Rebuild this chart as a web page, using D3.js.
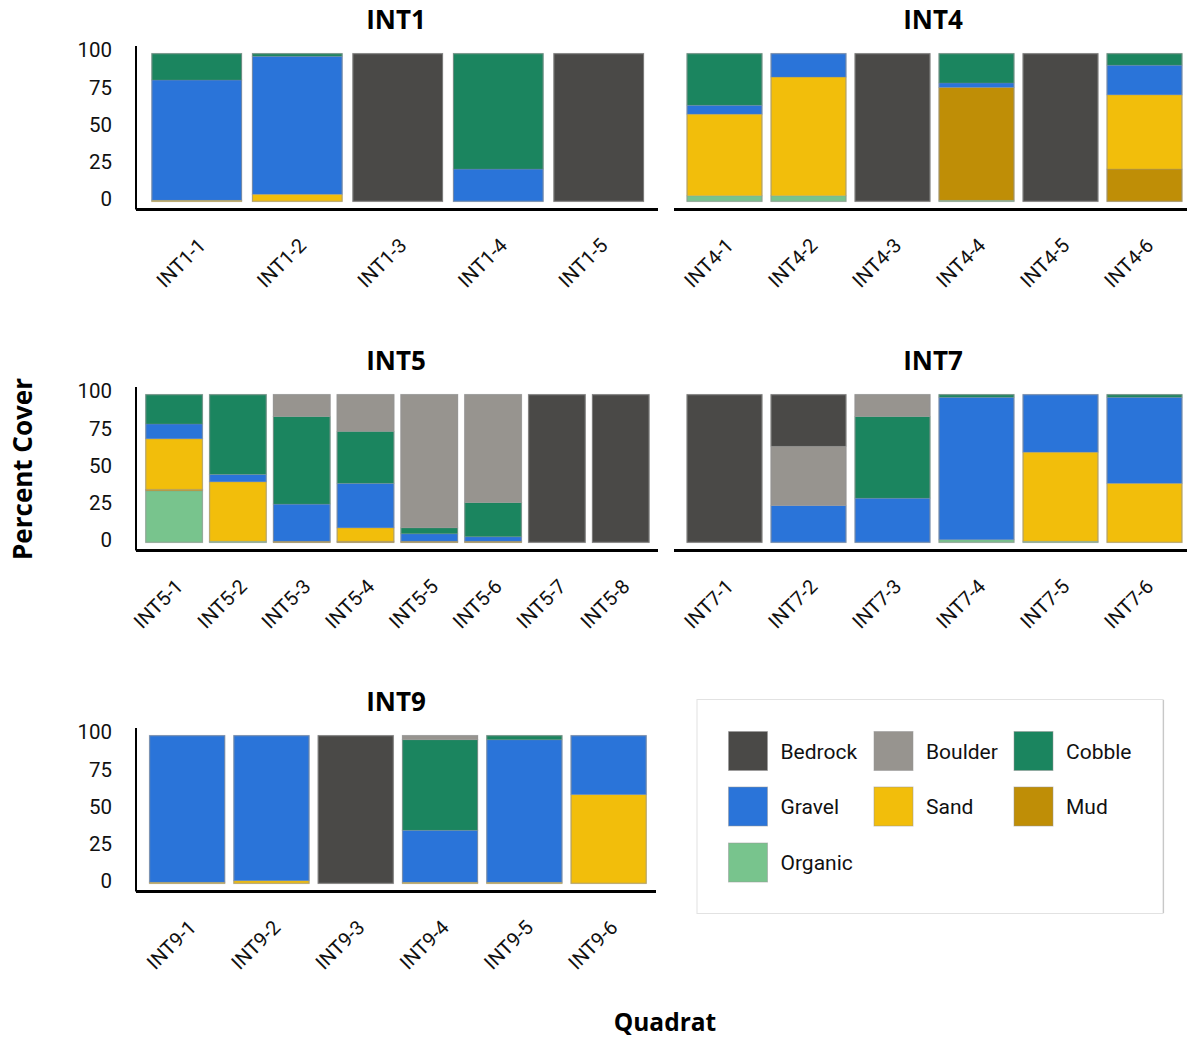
<!DOCTYPE html>
<html>
<head>
<meta charset="utf-8">
<script src="https://cdn.jsdelivr.net/npm/d3@7"></script>
<style>
  html, body { margin: 0; padding: 0; background: #fff; }
  svg { display: block; }
</style>
</head>
<body>
<svg id="chart" width="1187" height="1039"></svg>
<script>
// ---------------- DATA ----------------
const panelNames = ["INT1", "INT4", "INT5", "INT7", "INT9"];
const quadrats = [
  "INT1-1","INT1-2","INT1-3","INT1-4","INT1-5",
  "INT4-1","INT4-2","INT4-3","INT4-4","INT4-5","INT4-6",
  "INT5-1","INT5-2","INT5-3","INT5-4","INT5-5","INT5-6","INT5-7","INT5-8",
  "INT7-1","INT7-2","INT7-3","INT7-4","INT7-5","INT7-6",
  "INT9-1","INT9-2","INT9-3","INT9-4","INT9-5","INT9-6"
];
// stacking order: bottom -> top
const materials = ["Organic", "Mud", "Sand", "Gravel", "Cobble", "Boulder", "Bedrock"];
const legendOrder = ["Bedrock", "Boulder", "Cobble", "Gravel", "Sand", "Mud", "Organic"];
const materialColors = ["#78c48d", "#bf8e06", "#f2be0b", "#2a74d9", "#1b855f", "#97948f", "#4a4947"];

//                 INT1               INT4                      INT5                            INT7                     INT9
const organic = [0,0,0,0,0,          4,4,0,1,0,0,            35,1,0,0,0,0,0,0,               0,0,0,2,1,0,            0,0,0,0,0,0];
const mud     = [0,0,0,0,0,          0,0,0,76,0,22,          1,0,1,1,1,1,0,0,                0,0,0,0,0,0,            0,0,0,0,0,0];
const sand    = [1,5,0,0,0,          55,80,0,0,0,50,         34,40,0,9,0,0,0,0,              0,0,0,0,60,40,          1,2,0,1,1,60];
const gravel  = [81,93,0,22,0,       6,16,0,3,0,20,          10,5,25,30,5,3,0,0,             0,25,30,96,39,58,       99,98,0,35,96,40];
const cobble  = [18,2,0,78,0,        35,0,0,20,0,8,          20,54,59,35,4,23,0,0,           0,0,55,2,0,2,           0,0,0,61,3,0];
const boulder = [0,0,0,0,0,          0,0,0,0,0,0,            0,0,15,25,90,73,0,0,            0,40,15,0,0,0,          0,0,0,3,0,0];
const bedrock = [0,0,100,0,100,      0,0,100,0,100,0,        0,0,0,0,0,0,100,100,            100,35,0,0,0,0,         0,0,100,0,0,0];

const yTicks = [0, 25, 50, 75, 100];

// ---------------- LAYOUT ----------------
const seriesByMaterial = { Organic: organic, Mud: mud, Sand: sand, Gravel: gravel, Cobble: cobble, Boulder: boulder, Bedrock: bedrock };
const rows = quadrats.map((q, i) => {
  const r = { quadrat: q, panel: q.split("-")[0] };
  materials.forEach(m => r[m] = seriesByMaterial[m][i]);
  return r;
});
const colorScale = d3.scaleOrdinal().domain(materials).range(materialColors);

const layout = {
  INT1: { x: [146.5, 649], y: [201.7, 53.3], axisX: [136, 658], axisY: 209.5, leftAxis: true, leftTop: 46, titleX: 396, titleY: 29 },
  INT4: { x: [682.5, 1186.5], y: [201.7, 53.3], axisX: [674, 1187], axisY: 209.5, leftAxis: false, titleX: 933, titleY: 29 },
  INT5: { x: [142.2, 652.6], y: [542.7, 394.3], axisX: [136, 658], axisY: 550.5, leftAxis: true, leftTop: 387, titleX: 396, titleY: 370 },
  INT7: { x: [682.5, 1186.5], y: [542.7, 394.3], axisX: [674, 1187], axisY: 550.5, leftAxis: false, titleX: 933, titleY: 370 },
  INT9: { x: [145, 650.8], y: [883.7, 735.3], axisX: [136, 656], axisY: 891.5, leftAxis: true, leftTop: 728, titleX: 396, titleY: 711 }
};

const svg = d3.select("#chart");
const stack = d3.stack().keys(materials);

panelNames.forEach(name => {
  const L = layout[name];
  const data = rows.filter(r => r.panel === name);
  const x = d3.scaleBand().domain(data.map(d => d.quadrat)).range(L.x).paddingInner(0.1).paddingOuter(0.05);
  const y = d3.scaleLinear().domain([0, 100]).range(L.y);
  const g = svg.append("g");

  const series = stack(data);
  g.selectAll("g.layer").data(series).join("g")
    .attr("fill", s => colorScale(s.key))
    .selectAll("rect").data(s => s.filter(p => p[1] - p[0] > 0)).join("rect")
      .attr("x", p => x(p.data.quadrat))
      .attr("width", x.bandwidth())
      .attr("y", p => y(p[1]))
      .attr("height", p => y(p[0]) - y(p[1]))
      .attr("stroke", "rgba(140,140,140,0.35)")
      .attr("stroke-width", 0.8);

  // bar outlines
  g.selectAll("rect.outline").data(data).join("rect")
    .attr("class", "outline")
    .attr("x", d => x(d.quadrat) + 0.5)
    .attr("width", x.bandwidth() - 1)
    .attr("y", y(100) + 0.5)
    .attr("height", y(0) - y(100) - 1)
    .attr("fill", "none")
    .attr("stroke", "rgba(150,150,150,0.6)")
    .attr("stroke-width", 1);

  // bottom axis line
  g.append("line")
    .attr("x1", L.axisX[0]).attr("x2", L.axisX[1])
    .attr("y1", L.axisY).attr("y2", L.axisY)
    .attr("stroke", "#000").attr("stroke-width", 3);

  if (L.leftAxis) {
    g.append("line")
      .attr("x1", L.axisX[0]).attr("x2", L.axisX[0])
      .attr("y1", L.leftTop).attr("y2", L.axisY)
      .attr("stroke", "#000").attr("stroke-width", 2);
    g.selectAll("text.ytick").data(yTicks).join("text")
      .attr("class", "ytick")
      .attr("x", 112)
      .attr("y", v => y(v) - 3)
      .attr("dy", "0.35em")
      .attr("text-anchor", "end")
      .attr("font-family", "Roboto, sans-serif")
      .attr("font-size", 20.5)
      .attr("fill", "#111")
      .text(v => v);
  }

  // x tick labels, rotated
  g.selectAll("text.xtick").data(data).join("text")
    .attr("class", "xtick")
    .attr("transform", d => `translate(${x(d.quadrat) + x.bandwidth() / 2},${L.axisY + 27}) rotate(-45)`)
    .attr("text-anchor", "end")
    .attr("dy", "0.72em")
    .attr("font-family", "Roboto, sans-serif")
    .attr("font-size", 20)
    .attr("fill", "#111")
    .text(d => d.quadrat);

  // panel title
  g.append("text")
    .attr("x", L.titleX).attr("y", L.titleY)
    .attr("text-anchor", "middle")
    .attr("font-family", "'Open Sans', sans-serif")
    .attr("font-weight", 700)
    .attr("font-size", 26)
    .attr("fill", "#000")
    .text(name);
});

// axis titles
svg.append("text")
  .attr("transform", "translate(32,469) rotate(-90)")
  .attr("text-anchor", "middle")
  .attr("font-family", "'Open Sans', sans-serif")
  .attr("font-weight", 700)
  .attr("font-size", 26)
  .text("Percent Cover");

svg.append("text")
  .attr("x", 665).attr("y", 1031)
  .attr("text-anchor", "middle")
  .attr("font-family", "'Open Sans', sans-serif")
  .attr("font-weight", 700)
  .attr("font-size", 24.5)
  .text("Quadrat");

// legend
const lg = svg.append("g");
lg.append("rect")
  .attr("x", 697).attr("y", 699.5).attr("width", 466).attr("height", 214)
  .attr("fill", "#fff").attr("stroke", "#e2e2e2").attr("stroke-width", 1);
lg.append("line").attr("x1", 1163.5).attr("x2", 1163.5).attr("y1", 700).attr("y2", 913)
  .attr("stroke", "#c8c8c8").attr("stroke-width", 1.2);
const colX = [728.5, 874, 1014];
const rowY = [731.5, 787, 843];
const items = lg.selectAll("g.item").data(legendOrder).join("g")
  .attr("class", "item")
  .attr("transform", (d, i) => `translate(${colX[i % 3]},${rowY[Math.floor(i / 3)]})`);
items.append("rect")
  .attr("width", 39).attr("height", 39)
  .attr("fill", d => colorScale(d))
  .attr("stroke", "rgba(150,150,150,0.5)").attr("stroke-width", 1);
items.append("text")
  .attr("x", 52).attr("y", 20)
  .attr("dy", "0.35em")
  .attr("font-family", "Roboto, sans-serif")
  .attr("font-size", 21)
  .attr("fill", "#111")
  .text(d => d);
</script>
</body>
</html>
